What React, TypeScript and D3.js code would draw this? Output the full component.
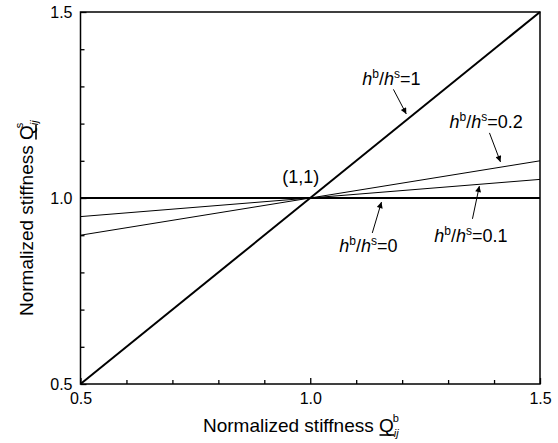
import React, { useRef, useEffect } from "react";
import * as d3 from "d3";

// x values where each line starts and ends (normalized stiffness Q_ij^b)
const qb = [0.5, 1.5];
// Q_ij^s for each thickness ratio hb/hs
const ratio0 = [1.0, 1.0];
const ratio01 = [0.95, 1.05];
const ratio02 = [0.9, 1.1];
const ratio1 = [0.5, 1.5];

const majorTicks = [0.5, 1.0, 1.5];
const minorTicks = [0.6, 0.7, 0.8, 0.9, 1.1, 1.2, 1.3, 1.4];

// annotation labels: text position and arrow start/end, in data units
const notes = [
  { value: "1", tx: 1.113, ty: 1.303, ax: 1.181, ay: 1.292, bx: 1.209, by: 1.226 },
  { value: "0.2", tx: 1.303, ty: 1.188, ax: 1.39, ay: 1.175, bx: 1.414, by: 1.097 },
  { value: "0.1", tx: 1.27, ty: 0.882, ax: 1.353, ay: 0.944, bx: 1.368, by: 1.032 },
  { value: "0", tx: 1.063, ty: 0.855, ax: 1.135, ay: 0.906, bx: 1.155, by: 0.989 },
];

function App() {
  const svgRef = useRef<SVGSVGElement>(null);

  useEffect(() => {
    const width = 558,
      height = 443;
    const left = 80.5,
      right = 540,
      top = 12,
      bottom = 384;

    const svg = d3.select(svgRef.current);
    svg.selectAll("*").remove();
    svg.attr("width", width).attr("height", height);

    const x = d3.scaleLinear().domain([0.5, 1.5]).range([left, right]);
    const y = d3.scaleLinear().domain([0.5, 1.5]).range([bottom, top]);

    const defs = svg.append("defs");
    defs
      .append("marker")
      .attr("id", "arrow")
      .attr("viewBox", "0 0 10 10")
      .attr("refX", 10)
      .attr("refY", 5)
      .attr("markerWidth", 9)
      .attr("markerHeight", 6)
      .attr("markerUnits", "userSpaceOnUse")
      .attr("orient", "auto")
      .append("path")
      .attr("d", "M0,0 L10,5 L0,10 Z")
      .attr("fill", "#000");

    const font = "Liberation Sans, Arial, sans-serif";

    // axes with inside ticks
    const xMinor = svg
      .append("g")
      .attr("transform", `translate(0,${bottom})`)
      .call(d3.axisBottom(x).tickValues(minorTicks).tickSize(-4).tickFormat(() => ""));
    const xMajor = svg
      .append("g")
      .attr("transform", `translate(0,${bottom})`)
      .call(
        d3
          .axisBottom(x)
          .tickValues(majorTicks)
          .tickSize(-6)
          .tickPadding(9)
          .tickFormat(d3.format(".1f"))
      );
    const yMinor = svg
      .append("g")
      .attr("transform", `translate(${left},0)`)
      .call(d3.axisLeft(y).tickValues(minorTicks).tickSize(-4).tickFormat(() => ""));
    const yMajor = svg
      .append("g")
      .attr("transform", `translate(${left},0)`)
      .call(
        d3
          .axisLeft(y)
          .tickValues(majorTicks)
          .tickSize(-6)
          .tickPadding(8)
          .tickFormat(d3.format(".1f"))
      );
    [xMinor, xMajor, yMinor, yMajor].forEach((g) => {
      g.select(".domain").remove();
      g.selectAll("line").attr("stroke", "#000").attr("stroke-width", 1.3);
      g.selectAll("text")
        .attr("font-family", font)
        .attr("font-size", 16)
        .attr("fill", "#000");
    });

    // frame
    svg
      .append("rect")
      .attr("x", left)
      .attr("y", top)
      .attr("width", right - left)
      .attr("height", bottom - top)
      .attr("fill", "none")
      .attr("stroke", "#000")
      .attr("stroke-width", 1.5);

    const line = d3
      .line<number>()
      .x((_, i) => x(qb[i]))
      .y((d) => y(d));

    const series = [
      { values: ratio02, w: 1 },
      { values: ratio01, w: 1 },
      { values: ratio0, w: 2 },
      { values: ratio1, w: 2 },
    ];
    svg
      .selectAll("path.series")
      .data(series)
      .enter()
      .append("path")
      .attr("class", "series")
      .attr("d", (d) => line(d.values))
      .attr("fill", "none")
      .attr("stroke", "#000")
      .attr("stroke-width", (d) => d.w);

    // annotations
    notes.forEach((n) => {
      svg
        .append("line")
        .attr("x1", x(n.ax))
        .attr("y1", y(n.ay))
        .attr("x2", x(n.bx))
        .attr("y2", y(n.by))
        .attr("stroke", "#000")
        .attr("stroke-width", 1)
        .attr("marker-end", "url(#arrow)");
      const t = svg
        .append("text")
        .attr("x", x(n.tx))
        .attr("y", y(n.ty))
        .attr("font-family", font)
        .attr("font-size", 18)
        .attr("fill", "#000");
      t.append("tspan").attr("font-style", "italic").text("h");
      t.append("tspan").attr("font-size", 12).attr("dy", -7).text("b");
      t.append("tspan").attr("dy", 7).text("/");
      t.append("tspan").attr("font-style", "italic").text("h");
      t.append("tspan").attr("font-size", 12).attr("dy", -7).text("s");
      t.append("tspan").attr("dy", 7).text("=" + n.value);
    });

    svg
      .append("text")
      .attr("x", x(0.939))
      .attr("y", y(1.04))
      .attr("font-family", font)
      .attr("font-size", 18)
      .attr("fill", "#000")
      .text("(1,1)");

    // axis titles, Q is underlined with a drawn line
    const title = (transform: string, sup: string, supDx: number) => {
      const g = svg.append("g").attr("transform", transform);
      const t = g
        .append("text")
        .attr("font-family", font)
        .attr("font-size", 19)
        .attr("fill", "#000");
      t.append("tspan").text("Normalized stiffness ");
      t.append("tspan").text("Q");
      t.append("tspan").attr("font-size", 11).attr("font-style", "italic").attr("dy", 5).text("ij");
      t.append("tspan").attr("font-size", 11).attr("dx", supDx).attr("dy", -15).text(sup);
      const node = t.node() as SVGTextElement;
      const qIndex = "Normalized stiffness ".length;
      const ext = node.getExtentOfChar(qIndex);
      g.append("line")
        .attr("x1", ext.x + 0.5)
        .attr("x2", ext.x + ext.width + 0.5)
        .attr("y1", 3)
        .attr("y2", 3)
        .attr("stroke", "#000")
        .attr("stroke-width", 1.6);
    };
    title("translate(203,432)", "b", -6);
    title("translate(33,316) rotate(-90)", "s", -8);
  }, []);

  return (
    <div style={{ position: "absolute", left: 0, top: 0 }}>
      <svg ref={svgRef}></svg>
    </div>
  );
}

export default App;
